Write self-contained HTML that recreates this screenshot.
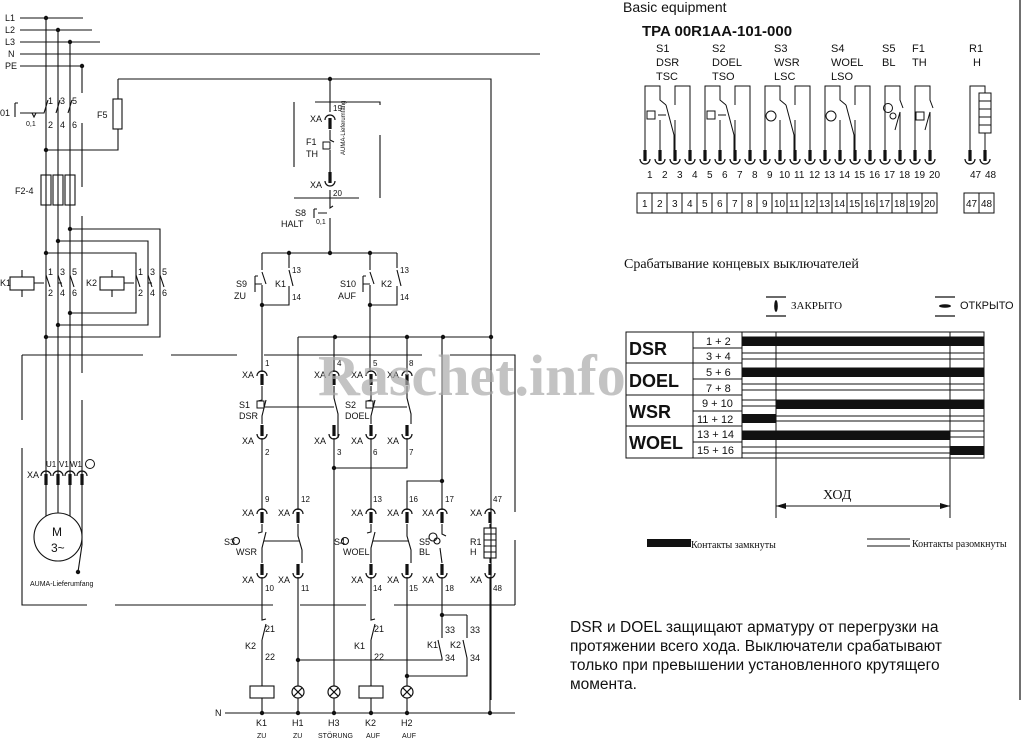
<!DOCTYPE html>
<html><head><meta charset="utf-8"><style>
html,body{margin:0;padding:0;background:#fff}
svg{display:block}
text{font-family:"Liberation Sans","DejaVu Sans",sans-serif;fill:#111}
.s{font-size:9px}.t{font-size:7px}
</style></head><body>
<svg width="1031" height="747" viewBox="0 0 1031 747" xmlns="http://www.w3.org/2000/svg">
<defs>
<g id="tu"><path d="M-5,4 A5,5 0 0 1 5,4" fill="none" stroke="#111" stroke-width="1.2"/><rect x="-1.6" y="2" width="3.2" height="11" fill="#111"/></g>
<g id="td"><path d="M-5,-4 A5,5 0 0 0 5,-4" fill="none" stroke="#111" stroke-width="1.2"/><rect x="-1.6" y="-13" width="3.2" height="11" fill="#111"/></g>
<g id="dot"><circle r="2.2" fill="#111"/></g>
<g id="lamp"><circle r="6" fill="#fff" stroke="#111" stroke-width="1.2"/><path d="M-4.2,-4.2L4.2,4.2M-4.2,4.2L4.2,-4.2" stroke="#111" stroke-width="1.2"/></g>
</defs>
<g stroke="#111" stroke-width="1.1" fill="none">
<path d="M20,18H83M20,30H92M20,42H100M20,54H540M20,66H84"/>
<path d="M46,18V520M58,30V514M70,42V520"/>
<path d="M82,66V93M82,123V187M82,216V373M82,400V545L78,572"/>
<path d="M15,103V117M15,103H18M20,113H44L48,100M56,113L60,100M68,113L72,100M32,113l2,4l2,-4"/>
<rect x="113" y="99" width="9" height="30"/>
<path d="M118,79V99M118,129V150H46M118,79H491V700"/>
<rect x="41" y="175" width="10" height="30"/><rect x="53" y="175" width="10" height="30"/><rect x="65" y="175" width="10" height="30"/>
<path d="M70,229H160V337H46M58,241H148V325H58M46,253H136V313H70"/>
<rect x="10" y="277" width="24" height="13"/><rect x="100" y="277" width="24" height="13"/>
<path d="M22,270V277M22,290V297M112,270V277M112,290V297M34,283H44M124,283H134M58,283H62M148,283H152"/>
<path d="M46,275L50,287M58,275L62,287M70,275L74,287M136,275L140,287M148,275L152,287M160,275L164,287"/>
<path d="M22,355H143M171,355H237M22,355V420M22,448V605H87M115,605H273M300,605H366M394,605H515M264,355H422M450,355H515V512M515,540V605"/>
<circle cx="58" cy="537" r="24" fill="#fff"/>
<path d="M330,79V112M315,102H380V105M294,102V167M380,135V198M294,198H359M330,130V140L334,142M330,150V180M330,190V208L333,206M330,218V253"/>
<path d="M314,209V218M314,209H317M318,213H327M262,253H397M262,253V270M289,253V268M370,253V270M397,253V268"/>
<path d="M262,285V305M262,272L266,284M289,270L293,286M289,286V305H262M370,272L374,284M370,285V305M397,270L401,286M397,286V305H370M370,305V372M262,305V372"/>
<path d="M255,276V292M255,276H258M255,284H262M363,276V292M363,276H366M363,284H370"/>
<path d="M298,337H491M298,337V510M334,337V372M407,337V372M442,337V510"/>
<path d="M262,386V400L258,401M266,400L262,416V424M334,386V398L338,414V438M371,386V400L367,401M375,400L371,416V424M407,386V398L411,414V424M264,407H334M373,407H407M262,438V510M334,438V692M407,438V468H334M371,438V510"/>
<path d="M407,510V481H442"/>
<path d="M262,524V532L258,533M266,532L262,548V563M298,524V536L302,550V563M264,541H300M371,524V532L367,533M375,532L371,548V563M407,524V536L411,550V563M373,541H409M442,524V534L446,536M440,548L442,563M490,524V528M490,558V563"/>
<circle cx="236" cy="541" r="3.5"/><circle cx="345" cy="541" r="3.5"/>
<circle cx="433" cy="537" r="4"/><circle cx="437" cy="541" r="3"/>
<rect x="484" y="528" width="12" height="30"/><path d="M484,534H496M484,540H496M484,546H496M484,552H496"/>
<path d="M262,577V620L266,619M262,640L266,624M262,640V686M371,577V620L375,619M371,640L375,624M371,640V686M298,577V686M407,577V686M442,577V615H467M442,615V638M438,640L442,658V660H298M467,615V638M463,640L467,658V676H407M490,577V713"/>
<path d="M225,713H515"/>
<path d="M262,698V713M298,698V713M334,698V713M371,698V713M407,698V713"/>
</g>
<rect x="250" y="686" width="24" height="12" fill="#fff" stroke="#111" stroke-width="1.1"/>
<rect x="359" y="686" width="24" height="12" fill="#fff" stroke="#111" stroke-width="1.1"/>
<use href="#lamp" x="298" y="692"/><use href="#lamp" x="334" y="692"/><use href="#lamp" x="407" y="692"/>
<rect x="323" y="142" width="7" height="7" fill="none" stroke="#111"/><rect x="257" y="401" width="7" height="7" fill="none" stroke="#111"/><rect x="366" y="401" width="7" height="7" fill="none" stroke="#111"/>
<use href="#tu" x="330" y="116"/><use href="#td" x="330" y="185"/>
<use href="#tu" x="262" y="372"/><use href="#tu" x="334" y="372"/><use href="#tu" x="371" y="372"/><use href="#tu" x="407" y="372"/>
<use href="#td" x="262" y="438"/><use href="#td" x="334" y="438"/><use href="#td" x="371" y="438"/><use href="#td" x="407" y="438"/>
<use href="#tu" x="262" y="510"/><use href="#tu" x="298" y="510"/><use href="#tu" x="371" y="510"/><use href="#tu" x="407" y="510"/><use href="#tu" x="442" y="510"/><use href="#tu" x="490" y="510"/>
<use href="#td" x="262" y="577"/><use href="#td" x="298" y="577"/><use href="#td" x="371" y="577"/><use href="#td" x="407" y="577"/><use href="#td" x="442" y="577"/><use href="#td" x="490" y="577"/>
<use href="#tu" x="46" y="472"/><use href="#tu" x="58" y="472"/><use href="#tu" x="70" y="472"/><use href="#tu" x="82" y="472"/>
<use href="#dot" x="46" y="18"/><use href="#dot" x="58" y="30"/><use href="#dot" x="70" y="42"/><use href="#dot" x="82" y="66"/><use href="#dot" x="46" y="150"/>
<use href="#dot" x="70" y="229"/><use href="#dot" x="58" y="241"/><use href="#dot" x="46" y="253"/><use href="#dot" x="70" y="313"/><use href="#dot" x="58" y="325"/><use href="#dot" x="46" y="337"/>
<use href="#dot" x="330" y="79"/><use href="#dot" x="330" y="253"/><use href="#dot" x="289" y="253"/><use href="#dot" x="370" y="253"/><use href="#dot" x="262" y="305"/><use href="#dot" x="370" y="305"/>
<use href="#dot" x="335" y="337"/><use href="#dot" x="407" y="337"/><use href="#dot" x="443" y="337"/><use href="#dot" x="491" y="337"/><use href="#dot" x="334" y="468"/><use href="#dot" x="442" y="481"/>
<use href="#dot" x="442" y="615"/><use href="#dot" x="298" y="660"/><use href="#dot" x="407" y="676"/>
<use href="#dot" x="262" y="713"/><use href="#dot" x="298" y="713"/><use href="#dot" x="334" y="713"/><use href="#dot" x="371" y="713"/><use href="#dot" x="407" y="713"/><use href="#dot" x="490" y="713"/><use href="#dot" x="78" y="572"/>
<g class="s">
<text x="5" y="21">L1</text><text x="5" y="33">L2</text><text x="5" y="45">L3</text><text x="8" y="57">N</text><text x="5" y="69">PE</text>
<text x="0" y="116">01</text><text x="26" y="126" font-size="7">0,1</text>
<text x="48" y="104">1</text><text x="60" y="104">3</text><text x="72" y="104">5</text><text x="48" y="128">2</text><text x="60" y="128">4</text><text x="72" y="128">6</text>
<text x="97" y="118">F5</text><text x="15" y="194">F2-4</text>
<text x="0" y="286">K1</text><text x="86" y="286">K2</text>
<text x="48" y="275">1</text><text x="60" y="275">3</text><text x="72" y="275">5</text><text x="48" y="296">2</text><text x="60" y="296">4</text><text x="72" y="296">6</text>
<text x="138" y="275">1</text><text x="150" y="275">3</text><text x="162" y="275">5</text><text x="138" y="296">2</text><text x="150" y="296">4</text><text x="162" y="296">6</text>
<text x="27" y="478">XA</text><text x="46" y="467" font-size="8">U1</text><text x="59" y="467" font-size="8">V1</text><text x="70" y="467" font-size="8">W1</text>
</g>
<circle cx="90" cy="464" r="4.5" fill="none" stroke="#111"/>
<text x="52" y="536" font-size="12">M</text><text x="51" y="552" font-size="12">3~</text>
<text x="30" y="586" class="t">AUMA-Lieferumfang</text>
<g class="s">
<text x="310" y="122">XA</text><text x="333" y="111" font-size="8">19</text>
<text x="306" y="145">F1</text><text x="306" y="157">TH</text>
<text x="310" y="188">XA</text><text x="333" y="196" font-size="8">20</text>
<text x="295" y="216">S8</text><text x="281" y="227">HALT</text><text x="316" y="224" font-size="7">0,1</text>
<text x="236" y="287">S9</text><text x="234" y="299">ZU</text><text x="275" y="287">K1</text><text x="292" y="273" font-size="8">13</text><text x="292" y="300" font-size="8">14</text>
<text x="340" y="287">S10</text><text x="338" y="299">AUF</text><text x="381" y="287">K2</text><text x="400" y="273" font-size="8">13</text><text x="400" y="300" font-size="8">14</text>
<text x="242" y="378">XA</text><text x="314" y="378">XA</text><text x="351" y="378">XA</text><text x="387" y="378">XA</text>
<text x="265" y="366" font-size="8">1</text><text x="337" y="366" font-size="8">4</text><text x="373" y="366" font-size="8">5</text><text x="409" y="366" font-size="8">8</text>
<text x="239" y="408">S1</text><text x="239" y="419">DSR</text><text x="345" y="408">S2</text><text x="345" y="419">DOEL</text>
<text x="242" y="444">XA</text><text x="314" y="444">XA</text><text x="351" y="444">XA</text><text x="387" y="444">XA</text>
<text x="265" y="455" font-size="8">2</text><text x="337" y="455" font-size="8">3</text><text x="373" y="455" font-size="8">6</text><text x="409" y="455" font-size="8">7</text>
<text x="242" y="516">XA</text><text x="278" y="516">XA</text><text x="351" y="516">XA</text><text x="387" y="516">XA</text><text x="422" y="516">XA</text><text x="470" y="516">XA</text>
<text x="265" y="502" font-size="8">9</text><text x="301" y="502" font-size="8">12</text><text x="373" y="502" font-size="8">13</text><text x="409" y="502" font-size="8">16</text><text x="445" y="502" font-size="8">17</text><text x="493" y="502" font-size="8">47</text>
<text x="224" y="545">S3</text><text x="236" y="555">WSR</text><text x="334" y="545">S4</text><text x="343" y="555">WOEL</text><text x="419" y="545">S5</text><text x="419" y="555">BL</text><text x="470" y="545">R1</text><text x="470" y="555">H</text>
<text x="242" y="583">XA</text><text x="278" y="583">XA</text><text x="351" y="583">XA</text><text x="387" y="583">XA</text><text x="422" y="583">XA</text><text x="470" y="583">XA</text>
<text x="265" y="591" font-size="8">10</text><text x="301" y="591" font-size="8">11</text><text x="373" y="591" font-size="8">14</text><text x="409" y="591" font-size="8">15</text><text x="445" y="591" font-size="8">18</text><text x="493" y="591" font-size="8">48</text>
<text x="265" y="632">21</text><text x="245" y="649">K2</text><text x="265" y="660">22</text>
<text x="374" y="632">21</text><text x="354" y="649">K1</text><text x="374" y="660">22</text>
<text x="445" y="633">33</text><text x="470" y="633">33</text><text x="427" y="648">K1</text><text x="450" y="648">K2</text><text x="445" y="661">34</text><text x="470" y="661">34</text>
<text x="215" y="716">N</text>
<text x="256" y="726">K1</text><text x="292" y="726">H1</text><text x="328" y="726">H3</text><text x="365" y="726">K2</text><text x="401" y="726">H2</text>
</g>
<g class="t"><text x="257" y="738">ZU</text><text x="293" y="738">ZU</text><text x="318" y="738">STÖRUNG</text><text x="366" y="738">AUF</text><text x="402" y="738">AUF</text></g>
<text x="340" y="150" font-size="6" transform="rotate(-90 345 150)">AUMA-Lieferumfang</text>
<line x1="1020" y1="0" x2="1020" y2="700" stroke="#111" stroke-width="1.2"/>
<text x="623" y="12" font-size="14">Basic equipment</text>
<text x="642" y="36" font-size="15" font-weight="bold">TPA 00R1AA-101-000</text>
<g font-size="11">
<text x="656" y="52">S1</text><text x="656" y="66">DSR</text><text x="656" y="80">TSC</text>
<text x="712" y="52">S2</text><text x="712" y="66">DOEL</text><text x="712" y="80">TSO</text>
<text x="774" y="52">S3</text><text x="774" y="66">WSR</text><text x="774" y="80">LSC</text>
<text x="831" y="52">S4</text><text x="831" y="66">WOEL</text><text x="831" y="80">LSO</text>
<text x="882" y="52">S5</text><text x="882" y="66">BL</text><text x="912" y="52">F1</text><text x="912" y="66">TH</text>
<text x="969" y="52">R1</text><text x="973" y="66">H</text>
</g>
<g stroke="#111" stroke-width="1" fill="none">
<path d="M645,150V86H660V100L666,105M660,120V150M666,105L674,135V150M675,150V120M675,105V86H690V150M658,115H666"/>
<path d="M705,150V86H720V100L726,105M720,120V150M726,105L734,135V150M735,150V120M735,105V86H750V150M718,115H726"/>
<path d="M765,150V86H780V100L786,105M780,120V150M786,105L794,135V150M795,150V120M795,105V86H810V150"/>
<path d="M825,150V86H840V100L846,105M840,120V150M846,105L854,135V150M855,150V120M855,105V86H870V150"/>
<path d="M885,150V86H900V100L903,108M895,130L900,112V150M915,150V86H930V100L933,108M925,130L930,112V150"/>
<path d="M970,150V86H985V150"/>
<rect x="647" y="111" width="8" height="8"/><rect x="707" y="111" width="8" height="8"/><circle cx="771" cy="116" r="5"/><circle cx="831" cy="116" r="5"/><circle cx="888" cy="108" r="4.5"/><circle cx="893" cy="116" r="3"/><rect x="916" y="112" width="8" height="8"/>
<rect x="979" y="93" width="12" height="40" fill="#fff"/><path d="M979,101H991M979,109H991M979,117H991M979,125H991"/>
</g>
<g>
<use href="#td" x="645" y="163"/><use href="#td" x="660" y="163"/><use href="#td" x="675" y="163"/><use href="#td" x="690" y="163"/><use href="#td" x="705" y="163"/><use href="#td" x="720" y="163"/><use href="#td" x="735" y="163"/><use href="#td" x="750" y="163"/><use href="#td" x="765" y="163"/><use href="#td" x="780" y="163"/><use href="#td" x="795" y="163"/><use href="#td" x="810" y="163"/><use href="#td" x="825" y="163"/><use href="#td" x="840" y="163"/><use href="#td" x="855" y="163"/><use href="#td" x="870" y="163"/><use href="#td" x="885" y="163"/><use href="#td" x="900" y="163"/><use href="#td" x="915" y="163"/><use href="#td" x="930" y="163"/><use href="#td" x="970" y="163"/><use href="#td" x="985" y="163"/>
</g>
<g font-size="10">
<text x="647" y="178">1</text><text x="662" y="178">2</text><text x="677" y="178">3</text><text x="692" y="178">4</text><text x="707" y="178">5</text><text x="722" y="178">6</text><text x="737" y="178">7</text><text x="752" y="178">8</text><text x="767" y="178">9</text><text x="779" y="178">10</text><text x="794" y="178">11</text><text x="809" y="178">12</text><text x="824" y="178">13</text><text x="839" y="178">14</text><text x="854" y="178">15</text><text x="869" y="178">16</text><text x="884" y="178">17</text><text x="899" y="178">18</text><text x="914" y="178">19</text><text x="929" y="178">20</text><text x="970" y="178">47</text><text x="985" y="178">48</text>
</g>
<g stroke="#111" fill="none"><rect x="637" y="193" width="300" height="20"/><rect x="964" y="193" width="30" height="20"/>
<path d="M652,193v20M667,193v20M682,193v20M697,193v20M712,193v20M727,193v20M742,193v20M757,193v20M772,193v20M787,193v20M802,193v20M817,193v20M832,193v20M847,193v20M862,193v20M877,193v20M892,193v20M907,193v20M922,193v20M979,193v20"/></g>
<g font-size="10">
<text x="642" y="207">1</text><text x="657" y="207">2</text><text x="672" y="207">3</text><text x="687" y="207">4</text><text x="702" y="207">5</text><text x="717" y="207">6</text><text x="732" y="207">7</text><text x="747" y="207">8</text><text x="762" y="207">9</text><text x="774" y="207">10</text><text x="789" y="207">11</text><text x="804" y="207">12</text><text x="819" y="207">13</text><text x="834" y="207">14</text><text x="849" y="207">15</text><text x="864" y="207">16</text><text x="879" y="207">17</text><text x="894" y="207">18</text><text x="909" y="207">19</text><text x="924" y="207">20</text><text x="966" y="207">47</text><text x="981" y="207">48</text>
</g>
<text x="624" y="268" font-size="14" style="font-family:'Liberation Serif',serif">Срабатывание концевых выключателей</text>
<g stroke="#111" stroke-width="1.2"><path d="M766,297H786M766,316H786M935,297H955M935,316H955"/></g>
<ellipse cx="776" cy="306" rx="1.8" ry="6" fill="#111"/><ellipse cx="945" cy="306" rx="6" ry="1.8" fill="#111"/>
<text x="791" y="309" font-size="11" style="font-family:'Liberation Serif',serif">ЗАКРЫТО</text>
<text x="960" y="309" font-size="11">ОТКРЫТО</text>
<g stroke="#111" fill="none" stroke-width="1">
<rect x="626" y="332" width="358" height="126"/>
<path d="M693,332V458M742,332V458M776,332V518M950,332V518M626,363H742M626,395H742M626,426H742M693,348H742M693,379H742M693,411H742M693,442H742"/>
<path d="M742,337H984M742,343H984M742,353H984M742,359H984M742,368H984M742,374H984M742,384H984M742,390H984M742,400H984M742,406H984M742,416H984M742,421H984M742,431H984M742,437H984M742,447H984M742,453H984"/>
<path d="M776,506H950"/>
</g>
<g fill="#111">
<rect x="742" y="337" width="242" height="9"/><rect x="742" y="368" width="242" height="9"/><rect x="776" y="400" width="208" height="9"/><rect x="742" y="414" width="34" height="9"/><rect x="742" y="431" width="208" height="9"/><rect x="950" y="446" width="34" height="9"/>
<path d="M776,506l10,-3v6zM950,506l-10,-3v6z"/>
<rect x="647" y="539" width="44" height="8"/>
</g>
<g font-size="11"><text x="706" y="345">1 +  2</text><text x="706" y="360">3 +  4</text><text x="706" y="376">5 +  6</text><text x="706" y="392">7 +  8</text><text x="702" y="407">9 + 10</text><text x="697" y="423">11 + 12</text><text x="697" y="438">13 + 14</text><text x="697" y="454">15 + 16</text></g>
<g font-size="18" font-weight="bold"><text x="629" y="355">DSR</text><text x="629" y="387">DOEL</text><text x="629" y="418">WSR</text><text x="629" y="449">WOEL</text></g>
<text x="823" y="499" font-size="14" style="font-family:'Liberation Serif',serif">ХОД</text>
<text x="691" y="548" font-size="10" style="font-family:'Liberation Serif',serif">Контакты замкнуты</text>
<path d="M867,539H910M867,546H910" stroke="#111"/>
<text x="912" y="547" font-size="10" style="font-family:'Liberation Serif',serif">Контакты разомкнуты</text>
<g font-size="15.5"><text x="570" y="632">DSR и DOEL защищают арматуру от перегрузки на</text><text x="570" y="651">протяжении всего хода. Выключатели срабатывают</text><text x="570" y="670">только при превышении установленного крутящего</text><text x="570" y="689">момента.</text></g>
<text x="318" y="395" font-size="58" font-weight="bold" style="font-family:'Liberation Serif',serif;fill:#aaa;opacity:0.7">Raschet.info</text>
</svg>
</body></html>
